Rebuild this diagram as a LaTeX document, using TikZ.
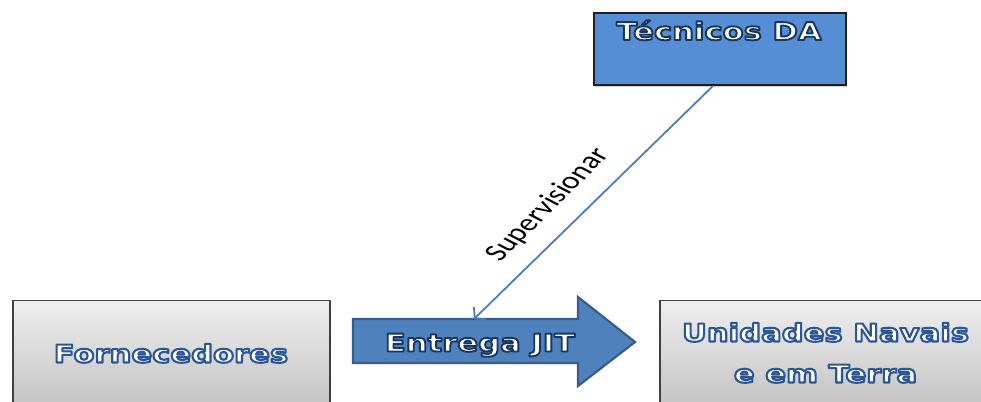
\documentclass[tikz,border=0pt]{standalone}
\usepackage{fontspec}
\usetikzlibrary{arrows.meta,shadows}
\newfontfamily\labelfont[FakeStretch=1.25]{DejaVu Sans Bold}
\newfontfamily\notefont{Carlito}

\definecolor{boxedge}{HTML}{404040}
\definecolor{grayhi}{HTML}{EFEFEF}
\definecolor{graylo}{HTML}{BDBDBD}
\definecolor{tecfill}{HTML}{558ED5}
\definecolor{tecedge}{HTML}{1F1F1F}
\definecolor{arrowfill}{HTML}{4F81BD}
\definecolor{arrowedge}{HTML}{385D8A}
\definecolor{linkblue}{HTML}{4A7EBB}

\tikzset{
  graybox/.style={draw=boxedge, line width=1.5pt, top color=grayhi, bottom color=graylo,
    inner sep=0pt, drop shadow={shadow xshift=1.5pt, shadow yshift=-1.5pt, opacity=0.35}},
  tecbox/.style={draw=tecedge, line width=1.8pt, fill=tecfill, inner sep=0pt,
    drop shadow={shadow xshift=1.5pt, shadow yshift=-1.5pt, opacity=0.35}},
  jitarrow/.style={draw=arrowedge, line width=2.2pt, fill=arrowfill, line join=miter},
  lbl/.style={font=\labelfont\fontsize{24.5}{41}\selectfont, inner sep=0pt, anchor=base,
    text=white},
  linkline/.style={draw=linkblue, line width=1.8pt,
    -{Straight Barb[length=7pt,width=17pt,line width=1.8pt]}},
}

% white letters stroked with a coloured rim (PDF text render mode 2)
\newcommand\rimnavy[1]{\special{pdf:code q 0.090 0.216 0.369 RG 1.9 w 1 j 2 Tr}#1\special{pdf:code 0 Tr Q}}
\newcommand\rimblue[1]{\special{pdf:code q 0.169 0.341 0.592 RG 2.1 w 1 j 2 Tr}#1\special{pdf:code 0 Tr Q}}

\begin{document}
\begin{tikzpicture}[x=1pt,y=1pt]
  \useasboundingbox (0,0) rectangle (981,401);
  \fill[white] (0,0) rectangle (981,401);

  % boxes
  \node[tecbox, minimum width=252, minimum height=72, anchor=south west] (tec) at (593,315) {};
  \node[graybox, minimum width=317, minimum height=121, anchor=north west] (forn) at (12,101) {};
  \node[graybox, minimum width=341, minimum height=121, anchor=north west] (unid) at (659,101) {};

  % delivery arrow
  \draw[jitarrow] (353,82) -- (578,82) -- (578,104) -- (635,59) -- (578,15) -- (578,38)
    -- (353,38) -- cycle;
  \coordinate (jit-top) at (474,82);

  % labels
  \node[lbl] (tec-label) at (719,361) {\rimnavy{Técnicos DA}};
  \node[lbl] (forn-label) at (171,38.5) {\rimblue{Fornecedores}};
  \node[lbl] (unid-label-a) at (825.5,59.5) {\rimblue{Unidades Navais}};
  \node[lbl] (unid-label-b) at (825.5,18.5) {\rimblue{e em Terra}};
  \node[lbl] (jit-label) at (480,49.5) {\rimnavy{Entrega JIT}};

  % supervision link
  \draw[linkline] ([xshift=-7pt]tec.south) -- (jit-top);
  \begin{scope}[shift={(548,196)}, xscale=1.4]
    \node[rotate=54, transform shape, inner sep=0pt,
      font=\notefont\fontsize{24}{24}\selectfont] (sup-label) at (0,0) {Supervisionar};
  \end{scope}
\end{tikzpicture}
\end{document}
